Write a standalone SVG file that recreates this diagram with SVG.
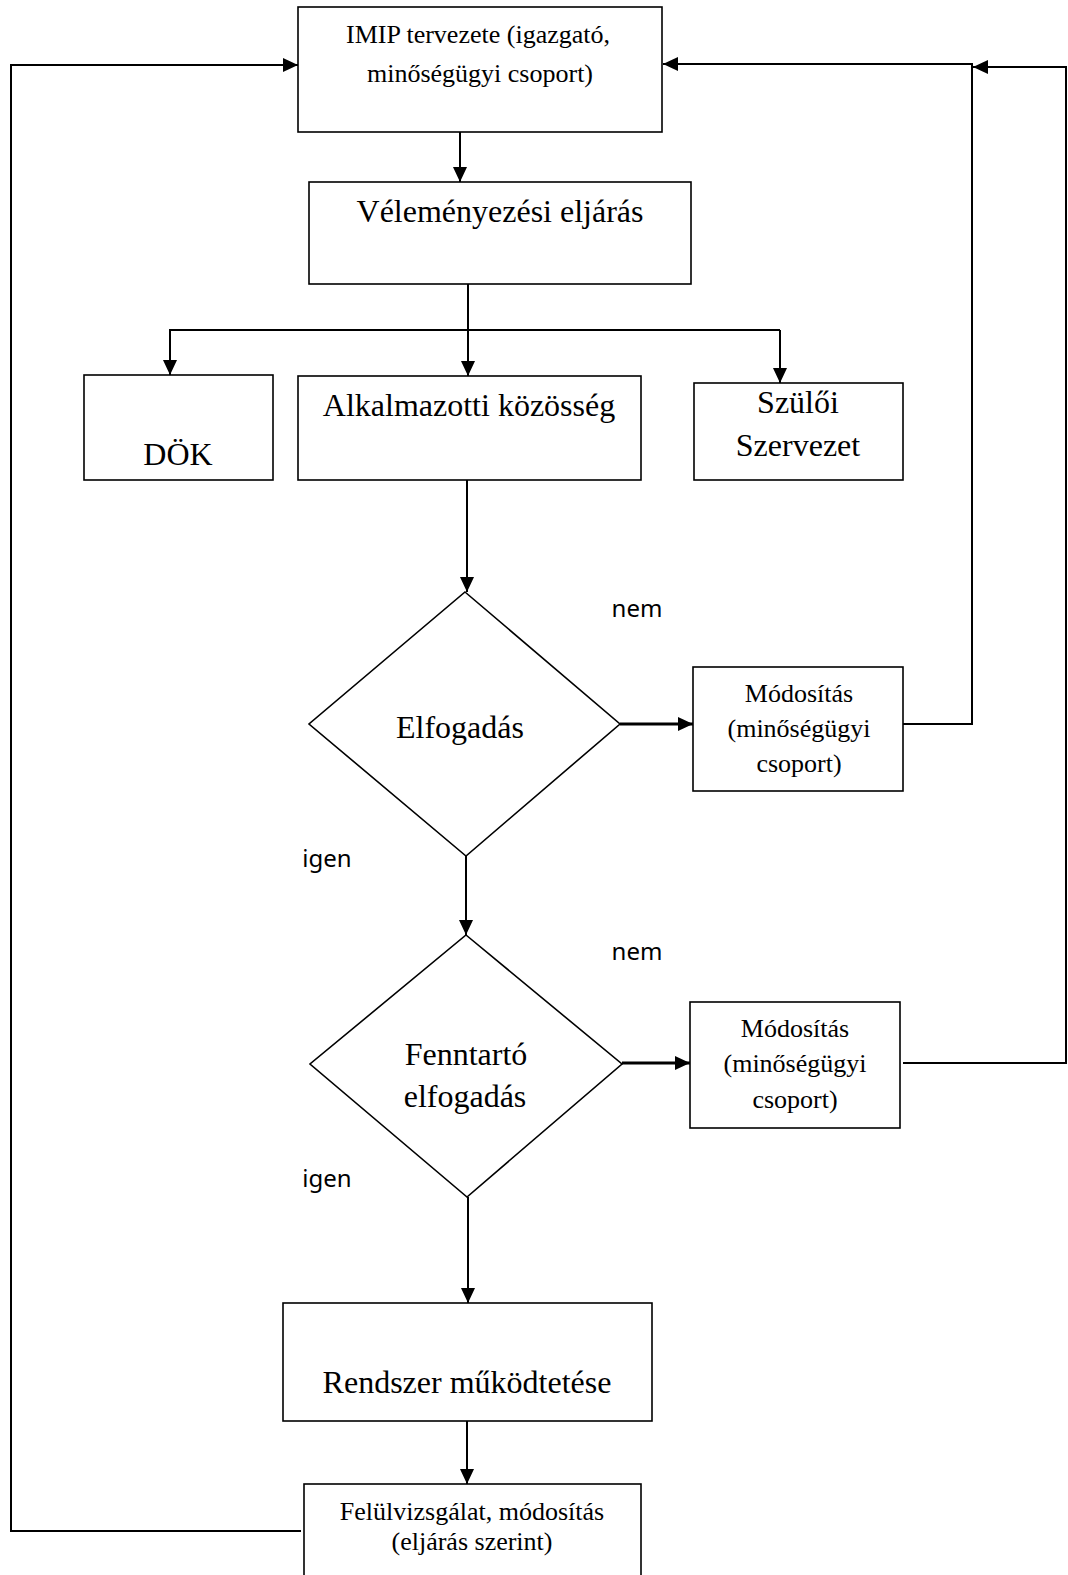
<svg xmlns="http://www.w3.org/2000/svg" width="1068" height="1575" viewBox="0 0 1068 1575">
<style>
.box{fill:#fff;stroke:#000;stroke-width:1.6}
.ln{fill:none;stroke:#000;stroke-width:2}
.thick{fill:none;stroke:#000;stroke-width:3}
.t{font-family:"Liberation Serif","Times New Roman",serif;fill:#000;text-anchor:middle}
.big{font-size:32px}
.sm{font-size:26px}
.lbl{font-family:"Noto Sans","Open Sans",sans-serif;font-size:24px;fill:#000;text-anchor:middle}
</style>
<defs>
<marker id="arr" markerUnits="userSpaceOnUse" markerWidth="16" markerHeight="16" refX="15" refY="7" orient="auto">
<path d="M0,0 L15,7 L0,14 Z" fill="#000"/>
</marker>
</defs>
<rect width="1068" height="1575" fill="#fff"/>
<g id="connectors">
<line class="ln" x1="460" y1="132" x2="460" y2="182" marker-end="url(#arr)"/>
<line class="ln" x1="468" y1="284" x2="468" y2="376" marker-end="url(#arr)"/>
<polyline class="ln" points="170,375 170,330 780,330"/>
<line class="ln" x1="170" y1="330" x2="170" y2="375" marker-end="url(#arr)"/>
<line class="ln" x1="780" y1="330" x2="780" y2="383" marker-end="url(#arr)"/>
<line class="ln" x1="467" y1="480" x2="467" y2="592" marker-end="url(#arr)"/>
<line class="ln" x1="466" y1="856" x2="466" y2="935" marker-end="url(#arr)"/>
<line class="thick" x1="620" y1="724" x2="693" y2="724" marker-end="url(#arr)"/>
<polyline class="ln" points="903,724 972,724 972,64 663,64" marker-end="url(#arr)"/>
<polyline class="ln" points="903,1063 1066,1063 1066,67 973,67" marker-end="url(#arr)"/>
<line class="thick" x1="622" y1="1063" x2="690" y2="1063" marker-end="url(#arr)"/>
<line class="ln" x1="468" y1="1197" x2="468" y2="1303" marker-end="url(#arr)"/>
<line class="ln" x1="467" y1="1421" x2="467" y2="1484" marker-end="url(#arr)"/>
<polyline class="ln" points="301,1531 11,1531 11,65 298,65" marker-end="url(#arr)"/>
</g>
<g id="imip">
<rect class="box" x="298" y="7" width="364" height="125"/>
<text class="t sm" x="478" y="43">IMIP tervezete (igazgató,</text>
<text class="t sm" x="480" y="82">minőségügyi csoport)</text>
</g>
<g id="velemenyezes">
<rect class="box" x="309" y="182" width="382" height="102"/>
<text class="t big" x="500" y="222">Véleményezési eljárás</text>
</g>
<g id="dok">
<rect class="box" x="84" y="375" width="189" height="105"/>
<text class="t big" x="178" y="465">DÖK</text>
</g>
<g id="alkalmazotti">
<rect class="box" x="298" y="376" width="343" height="104"/>
<text class="t big" x="469" y="416">Alkalmazotti közösség</text>
</g>
<g id="szuloi">
<rect class="box" x="694" y="383" width="209" height="97"/>
<text class="t big" x="798" y="413">Szülői</text>
<text class="t big" x="798" y="456">Szervezet</text>
</g>
<g id="elfogadas">
<polygon class="box" points="465,592 620,724 466,856 309,724"/>
<text class="t big" x="460" y="738">Elfogadás</text>
</g>
<g id="modositas1">
<rect class="box" x="693" y="667" width="210" height="124"/>
<text class="t sm" x="799" y="702">Módosítás</text>
<text class="t sm" x="799" y="737">(minőségügyi</text>
<text class="t sm" x="799" y="772">csoport)</text>
</g>
<g id="fenntarto">
<polygon class="box" points="466,935 622,1064 467,1197 310,1064"/>
<text class="t big" x="466" y="1065">Fenntartó</text>
<text class="t big" x="465" y="1107">elfogadás</text>
</g>
<g id="modositas2">
<rect class="box" x="690" y="1002" width="210" height="126"/>
<text class="t sm" x="795" y="1037">Módosítás</text>
<text class="t sm" x="795" y="1072">(minőségügyi</text>
<text class="t sm" x="795" y="1108">csoport)</text>
</g>
<g id="rendszer">
<rect class="box" x="283" y="1303" width="369" height="118"/>
<text class="t big" x="467" y="1393">Rendszer működtetése</text>
</g>
<g id="felulvizsgalat">
<rect class="box" x="304" y="1484" width="337" height="100"/>
<text class="t sm" x="472" y="1520">Felülvizsgálat, módosítás</text>
<text class="t sm" x="472" y="1550">(eljárás szerint)</text>
</g>
<g id="labels">
<text class="lbl" x="637" y="617">nem</text>
<text class="lbl" x="327" y="867">igen</text>
<text class="lbl" x="637" y="960">nem</text>
<text class="lbl" x="327" y="1187">igen</text>
</g>
</svg>
